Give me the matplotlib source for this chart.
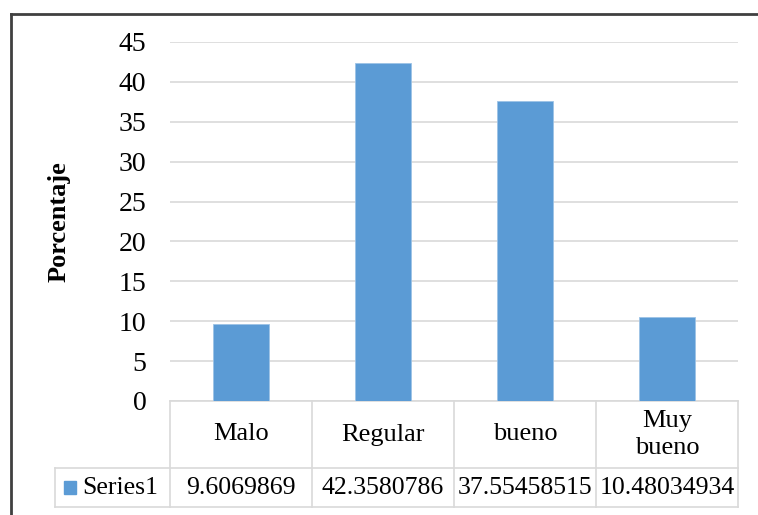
import matplotlib.pyplot as plt
from matplotlib.lines import Line2D
from matplotlib.patches import Rectangle

categorias = ["Malo", "Regular", "bueno", "Muy\nbueno"]
valores = [9.6069869, 42.3580786, 37.55458515, 10.48034934]
etiquetas_tabla = ["9.6069869", "42.3580786", "37.55458515", "10.48034934"]
serie = "Series1"
yticks = [0, 5, 10, 15, 20, 25, 30, 35, 40, 45]

plt.rcParams["font.family"] = ["Liberation Serif", "DejaVu Serif"]
azul = "#5B9BD5"
gris = "#D9D9D9"

W, H = 758, 515
fig = plt.figure(figsize=(W / 100, H / 100), dpi=100)
ax = fig.add_axes([170 / W, 1 - 401 / H, 568 / W, 359 / H])

x = list(range(len(categorias)))
ax.bar(x, valores, width=0.4, color=azul, edgecolor="#9DC3E6", linewidth=0.6, zorder=3)
ax.set_xlim(-0.5, len(categorias) - 0.5)
ax.set_ylim(0, 45)
ax.set_yticks(yticks)
ax.set_xticks([])
ax.tick_params(axis="y", length=0, pad=17, labelsize=20)
ax.grid(axis="y", color=gris, linewidth=1.2, zorder=0)
for s in ["top", "right", "left"]:
    ax.spines[s].set_visible(False)
ax.spines["bottom"].set_color(gris)
ax.spines["bottom"].set_linewidth(1.2)

fig.text(59 / W, 1 - 222 / H, "Porcentaje", rotation=90, ha="center", va="center",
         fontsize=19, fontweight="bold")

# tabla de datos bajo el eje
tr = ax.get_xaxis_transform()
y1 = -67 / 359
y2 = -106 / 359
x_izq = -0.5 - 115 / 142
for b in [i - 0.5 for i in range(len(categorias) + 1)]:
    ax.add_line(Line2D([b, b], [0, y2], transform=tr, color=gris, lw=1.2, clip_on=False))
ax.add_line(Line2D([x_izq, x_izq], [y1, y2], transform=tr, color=gris, lw=1.2, clip_on=False))
for yy in [y1, y2]:
    ax.add_line(Line2D([x_izq, len(categorias) - 0.5], [yy, yy], transform=tr,
                       color=gris, lw=1.2, clip_on=False))

for i, (cat, txt) in enumerate(zip(categorias, etiquetas_tabla)):
    ax.text(i, y1 / 2, cat, transform=tr, ha="center", va="center", fontsize=19,
            linespacing=1.3)
    ax.text(i, (y1 + y2) / 2, txt, transform=tr, ha="center", va="center", fontsize=18.5)

ax.add_patch(Rectangle((-0.5 - 106 / 142, (y1 + y2) / 2 - 6.5 / 359), 12 / 142, 13 / 359,
                       transform=tr, color=azul, clip_on=False))
ax.text(-0.5 - 88 / 142, (y1 + y2) / 2, serie, transform=tr, ha="left", va="center",
        fontsize=18.5)

# marco exterior
fig.add_artist(Line2D([11 / W, 1], [1 - 14 / H, 1 - 14 / H], color="#404040", lw=2))
fig.add_artist(Line2D([11 / W, 11 / W], [0, 1 - 14 / H], color="#404040", lw=2))

fig.savefig("out.png", dpi=100)
